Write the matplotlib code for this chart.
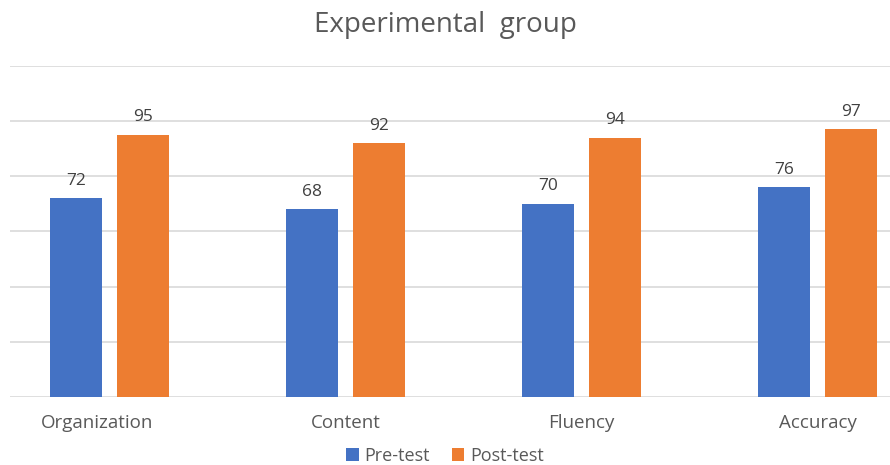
import numpy as np
import matplotlib
matplotlib.use("Agg")
import matplotlib.pyplot as plt
from matplotlib.transforms import ScaledTranslation

plt.rcParams['font.family'] = ['Open Sans', 'DejaVu Sans']

categories = ["Organization", "Content", "Fluency", "Accuracy"]
pre_test = [72, 68, 70, 76]
post_test = [95, 92, 94, 97]

blue = "#4472C4"
orange = "#ED7D31"
grey_text = "#595959"

fig = plt.figure(figsize=(8.9, 4.65), dpi=100)
ax = fig.add_axes([10 / 890, 68 / 465, 880 / 890, 331 / 465])

x = np.arange(len(categories))
width = 0.22
off = 0.142

b1 = ax.bar(x - off, pre_test, width, color=blue, label="Pre-test", zorder=3)
b2 = ax.bar(x + off, post_test, width, color=orange, label="Post-test", zorder=3)

for bars in (b1, b2):
    for rect in bars:
        h = rect.get_height()
        ax.text(rect.get_x() + rect.get_width() / 2, h + 3.5, f"{h:g}",
                ha="center", va="bottom", fontsize=12.5, color="#404040")

ax.set_xlim(-0.4216, 3.307)
ax.set_ylim(0, 120)
ax.set_yticks(np.arange(0, 121, 20))
ax.yaxis.grid(True, color="#D9D9D9", linewidth=1.2, zorder=0)
ax.tick_params(axis="y", left=False, labelleft=False)
ax.tick_params(axis="x", bottom=False, pad=9, labelsize=13.5, labelcolor=grey_text)
ax.set_xticks(x)
ax.set_xticklabels(categories)
for s in ax.spines.values():
    s.set_visible(False)

# first label sits a little left of its bars
lbl = ax.get_xticklabels()[0]
lbl.set_transform(lbl.get_transform() + ScaledTranslation(-0.12, 0, fig.dpi_scale_trans))

fig.text(0.5, 1 - 25 / 465, "Experimental  group", ha="center", va="center",
         fontsize=20, color=grey_text)

fig.legend(loc="center", bbox_to_anchor=(0.5, 1 - 456 / 465), ncol=2, frameon=False,
           fontsize=13, labelcolor=grey_text, handlelength=0.7, handleheight=0.7,
           handletextpad=0.3, columnspacing=1.2, borderpad=0.1)

fig.savefig("out.png", dpi=100)
